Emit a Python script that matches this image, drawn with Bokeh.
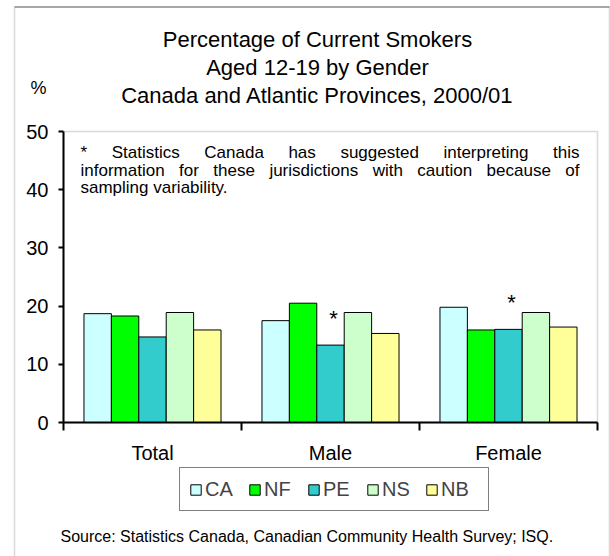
import numpy as np
from bokeh.plotting import figure
from bokeh.models import Label, BoxAnnotation, Legend, LegendItem, FixedTicker, Range1d
from bokeh.embed import file_html
from bokeh.resources import INLINE
from bokeh.core.properties import value

# ---------------- data ----------------
categories = ["Total", "Male", "Female"]
provinces = ["CA", "NF", "PE", "NS", "NB"]
ca = [18.7, 17.5, 19.8]
nf = [18.3, 20.5, 15.9]
pe = [14.7, 13.3, 16.0]
ns = [18.9, 18.9, 18.9]
nb = [15.9, 15.3, 16.4]
caution_province = "PE"
caution_categories = ["Male", "Female"]
y_ticks = [0, 10, 20, 30, 40, 50]

title_lines = ["Percentage of Current Smokers",
               "Aged 12-19 by Gender",
               "Canada and Atlantic Provinces, 2000/01"]
note_lines = ["* Statistics Canada has suggested interpreting this",
              "information for these jurisdictions with caution because of",
              "sampling variability."]
source_text = "Source:  Statistics Canada, Canadian Community Health Survey; ISQ."

series = [ca, nf, pe, ns, nb]
colors = ["#CCFFFF", "#00FF00", "#33CCCC", "#CCFFCC", "#FFFF99"]
FONT = "Liberation Sans"

# ---------------- layout (page pixels) ----------------
W, H = 610, 556
FL, FT, FR, FB = 63, 131, 597, 422   # plot-area edges
YMAX = 50
NC = len(categories)
xs_unit = (FR - FL) / NC
ys_unit = (FB - FT) / YMAX

p = figure(width=W, height=H, output_backend="svg", toolbar_location=None,
           x_range=Range1d(-FL / xs_unit, NC + (W - FR) / xs_unit),
           y_range=Range1d(-(H - FB) / ys_unit, YMAX + FT / ys_unit),
           min_border=0, min_border_left=0, min_border_right=0,
           min_border_top=0, min_border_bottom=0)
p.grid.visible = False
p.outline_line_color = None
p.background_fill_color = "white"
p.border_fill_color = "white"


def dx(px):
    return (px - FL) / xs_unit


def dy(py):
    return (FB - py) / ys_unit


# plot-area outline (gray, under axes)
p.add_layout(BoxAnnotation(left=0, right=NC, bottom=0, top=YMAX, fill_alpha=0,
                           line_color="#808080", line_width=1.5, level="underlay"))

# y axis
ya = p.yaxis[0]
ya.fixed_location = 0
ya.bounds = (0, YMAX)
ya.ticker = FixedTicker(ticks=y_ticks)
ya.minor_tick_line_color = None
ya.major_tick_in = 0
ya.major_tick_out = 5
ya.major_tick_line_width = 2
ya.axis_line_width = 2
ya.major_label_standoff = 10
ya.major_label_text_font = FONT
ya.major_label_text_font_size = "20px"
ya.major_label_text_color = "black"

# x axis: labels at centres, ticks at category boundaries
xa = p.xaxis[0]
xa.fixed_location = 0
xa.bounds = (0, NC)
centers = [i + 0.5 for i in range(NC)]
xa.ticker = FixedTicker(ticks=centers, minor_ticks=list(range(NC + 1)))
xa.major_label_overrides = {c: cat for c, cat in zip(centers, categories)}
xa.major_tick_in = 0
xa.major_tick_out = 0
xa.major_tick_line_color = None
xa.minor_tick_in = 0
xa.minor_tick_out = 8
xa.minor_tick_line_color = "black"
xa.minor_tick_line_width = 2
xa.axis_line_width = 2
xa.major_label_standoff = 11
xa.major_label_text_font = FONT
xa.major_label_text_font_size = "20px"
xa.major_label_text_color = "black"

# bars
n = len(provinces)
bar_w = 0.154
items = []
base = np.arange(NC) + 0.5
for j, (prov, vals, col) in enumerate(zip(provinces, series, colors)):
    xs = base + (j - (n - 1) / 2) * bar_w
    r = p.vbar(x=xs, top=vals, width=bar_w, bottom=0, fill_color=col,
               line_color="black", line_width=1)
    items.append(LegendItem(label=prov, renderers=[r]))

# caution asterisks
jp = provinces.index(caution_province)
ax = [base[categories.index(c)] + (jp - (n - 1) / 2) * bar_w for c in caution_categories]
ay = [series[jp][categories.index(c)] for c in caution_categories]
p.text(x=ax, y=ay, text=["*"] * len(ax), x_offset=3, y_offset=-27,
       text_align="center", text_baseline="alphabetic",
       text_font=value(FONT), text_font_size="22px", text_color="black")

# legend
legend = Legend(items=items, orientation="horizontal", location=(179, H - 511),
                glyph_width=13, glyph_height=13, label_standoff=3, spacing=5,
                padding=9, margin=0, label_width=38, label_height=24,
                label_text_font=FONT, label_text_font_size="20px",
                border_line_color="black", border_line_width=1.5,
                background_fill_color="white", background_fill_alpha=1)
p.add_layout(legend, "center")

# outer chart border
p.add_layout(BoxAnnotation(left=dx(14), right=dx(609), top=dy(6.5), bottom=dy(620),
                           fill_alpha=0, line_color="#808080", line_width=1.5))
p.add_layout(BoxAnnotation(left=dx(14), right=dx(609), top=dy(6.5), bottom=dy(6.5),
                           fill_alpha=0, line_color="#1a1a1a", line_width=2))

# title
for line, base_y in zip(title_lines, [38.5, 66.5, 94.5]):
    p.add_layout(Label(x=dx(317), y=dy(base_y), text=line, text_align="center",
                       text_baseline="alphabetic", text_font=FONT,
                       text_font_size="22px", text_color="black"))

# % label
p.add_layout(Label(x=dx(30), y=dy(87), text="%", text_align="left",
                   text_baseline="alphabetic", text_font=FONT,
                   text_font_size="18px", text_color="black"))

# justified note
AW = {"a": 556, "b": 556, "c": 500, "d": 556, "e": 556, "f": 278, "g": 556, "h": 556,
      "i": 222, "j": 222, "l": 222, "m": 833, "n": 556, "o": 556, "p": 556, "r": 333,
      "s": 500, "t": 278, "u": 556, "v": 500, "w": 722, "y": 500, "S": 667, "C": 722,
      "*": 389, ".": 278, " ": 278}
NOTE_SIZE = 17


def tw(s):
    return sum(AW.get(ch, 556) for ch in s) * NOTE_SIZE / 1000


note_left, note_right = 80, 579
for k, (line, base_y) in enumerate(zip(note_lines, [152, 169.5, 187])):
    words = line.split()
    if k < len(note_lines) - 1:
        total = sum(tw(w) for w in words)
        gap = (note_right - note_left - total) / (len(words) - 1)
    else:
        gap = tw(" ")
    x = note_left
    for w in words:
        p.add_layout(Label(x=dx(x), y=dy(base_y), text=w, text_align="left",
                           text_baseline="alphabetic", text_font=FONT,
                           text_font_size=f"{NOTE_SIZE}px", text_color="black"))
        x += tw(w) + gap

# source
p.add_layout(Label(x=dx(60), y=dy(536), text=source_text, text_align="left",
                   text_baseline="alphabetic", text_font=FONT,
                   text_font_size="16px", text_color="black"))

open("out.html", "w").write(file_html(p, INLINE))
